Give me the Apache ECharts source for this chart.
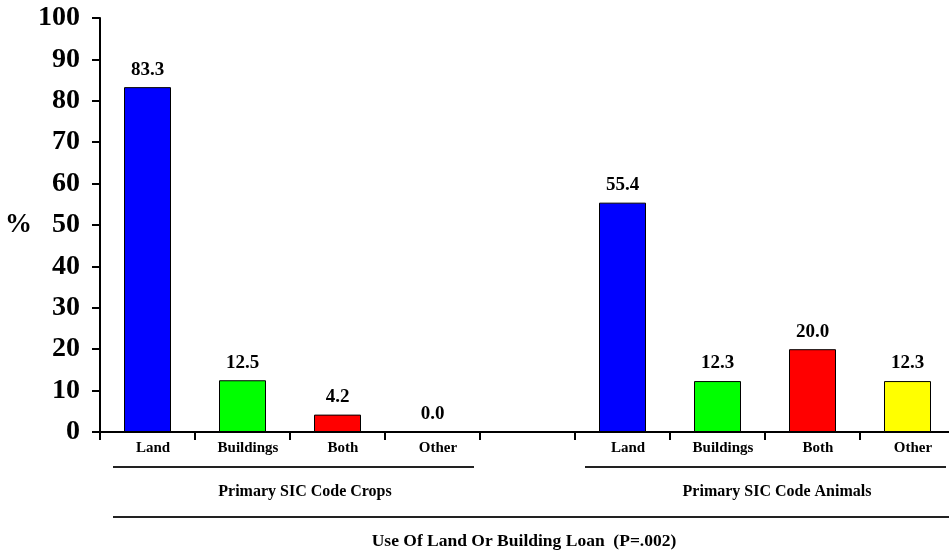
<!DOCTYPE html>
<html>
<head>
<meta charset="utf-8">
<script src="https://cdn.jsdelivr.net/npm/echarts@6/dist/echarts.min.js"></script>
<style>
  html, body { margin: 0; padding: 0; background: #fff; }
  #chart { width: 949px; height: 554px; }
</style>
</head>
<body>
<div id="chart"></div>
<script>
// Loan use categories, two groups separated by an empty slot
const categories = ['Land', 'Buildings', 'Both', 'Other', '', 'Land', 'Buildings', 'Both', 'Other'];
const cropsValues = [83.3, 12.5, 4.2, 0.0];
const animalsValues = [55.4, 12.3, 20.0, 12.3];
const barColors = ['#0000ff', '#00ff00', '#ff0000', '#ffff00'];
const groupNames = ['Primary SIC Code Crops', 'Primary SIC Code Animals'];
const axisTitle = 'Use Of Land Or Building Loan  (P=.002)';
const yTicks = [0, 10, 20, 30, 40, 50, 60, 70, 80, 90, 100];

const FONT = '"Liberation Serif", "Times New Roman", serif';

const barData = [];
cropsValues.forEach((v, i) => barData.push({ value: v, itemStyle: { color: barColors[i] } }));
barData.push({ value: null });
animalsValues.forEach((v, i) => barData.push({ value: v, itemStyle: { color: barColors[i] } }));

const chart = echarts.init(document.getElementById('chart'), null, { renderer: 'canvas' });

const lineStyle = { stroke: '#222', lineWidth: 2 };

chart.setOption({
  animation: false,
  backgroundColor: '#ffffff',
  grid: { left: 100, right: -6, top: 18, bottom: 122, containLabel: false, outerBoundsMode: 'none' },
  xAxis: {
    type: 'category',
    data: categories,
    boundaryGap: true,
    axisLine: { lineStyle: { color: '#000', width: 2 } },
    axisTick: { show: true, interval: 0, length: 8, lineStyle: { color: '#000', width: 2 } },
    axisLabel: {
      interval: 0, margin: 9, color: '#000',
      padding: [0, 0, 0, 11],
      fontFamily: FONT, fontWeight: 'bold', fontSize: 15
    },
    splitLine: { show: false }
  },
  yAxis: {
    type: 'value',
    min: yTicks[0],
    max: yTicks[yTicks.length - 1],
    interval: 10,
    name: '%',
    nameLocation: 'middle',
    nameRotate: 0,
    nameGap: 65,
    nameTextStyle: { color: '#000', fontFamily: FONT, fontWeight: 'bold', fontSize: 27, padding: [8, 0, 0, 0] },
    axisLine: { show: true, lineStyle: { color: '#000', width: 2 } },
    axisTick: { show: true, length: 8, lineStyle: { color: '#000', width: 2 } },
    axisLabel: {
      margin: 20, color: '#000',
      fontFamily: FONT, fontWeight: 'bold', fontSize: 28
    },
    splitLine: { show: false }
  },
  series: [{
    type: 'bar',
    data: barData,
    barWidth: 47,
    itemStyle: { borderColor: '#000', borderWidth: 1 },
    label: {
      show: true,
      position: 'top',
      distance: 8,
      color: '#000',
      fontFamily: FONT,
      fontWeight: 'bold',
      fontSize: 19,
      formatter: p => p.value == null ? '' : Number(p.value).toFixed(1)
    }
  }],
  graphic: [
    { type: 'line', shape: { x1: 113, y1: 467, x2: 474, y2: 467 }, style: lineStyle, silent: true },
    { type: 'line', shape: { x1: 585, y1: 467, x2: 946, y2: 467 }, style: lineStyle, silent: true },
    { type: 'line', shape: { x1: 113, y1: 517, x2: 949, y2: 517 }, style: lineStyle, silent: true },
    {
      type: 'text', x: 305, y: 492,
      style: { text: groupNames[0], fill: '#000', font: 'bold 16px ' + FONT, textAlign: 'center', textVerticalAlign: 'middle' }
    },
    {
      type: 'text', x: 777, y: 492,
      style: { text: groupNames[1], fill: '#000', font: 'bold 16px ' + FONT, textAlign: 'center', textVerticalAlign: 'middle' }
    },
    {
      type: 'text', x: 524, y: 541,
      style: { text: axisTitle, fill: '#000', font: 'bold 17.5px ' + FONT, textAlign: 'center', textVerticalAlign: 'middle' }
    }
  ]
});
</script>
</body>
</html>
